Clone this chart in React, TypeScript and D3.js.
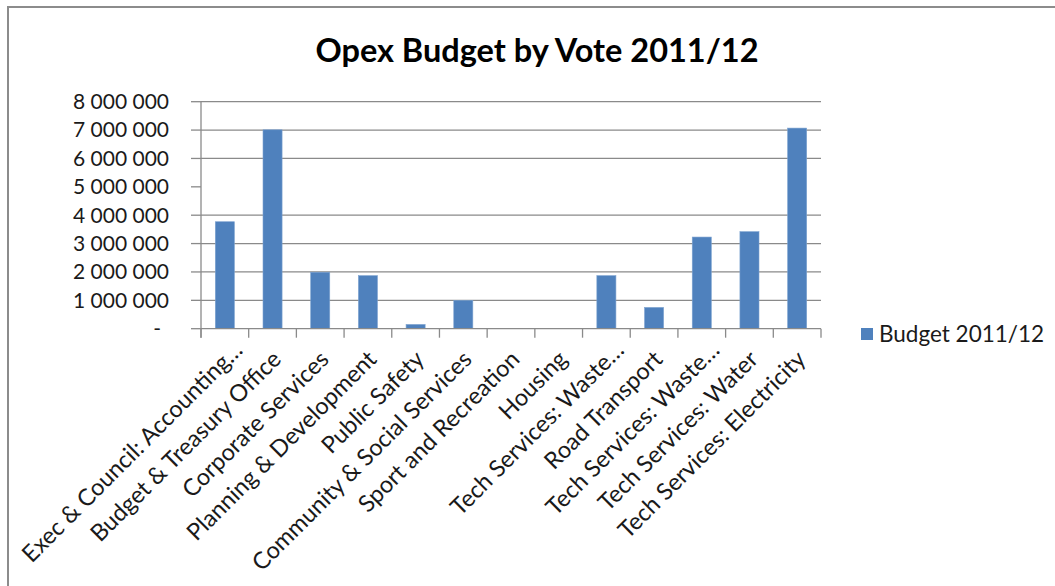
import React from "react";
import * as d3 from "d3";

const categories = [
  "Exec & Council: Accounting…",
  "Budget & Treasury Office",
  "Corporate Services",
  "Planning & Development",
  "Public Safety",
  "Community & Social Services",
  "Sport and Recreation",
  "Housing",
  "Tech Services: Waste…",
  "Road Transport",
  "Tech Services: Waste…",
  "Tech Services: Water",
  "Tech Services: Electricity",
];
const values = [3770000, 7010000, 1990000, 1870000, 150000, 1000000, 0, 0, 1870000, 750000, 3230000, 3420000, 7070000];
const yTicks = [0, 1000000, 2000000, 3000000, 4000000, 5000000, 6000000, 7000000, 8000000];
const gridTicks = [1000000, 2000000, 3000000, 4000000, 6000000, 7000000, 8000000];
const seriesName = "Budget 2011/12";
const title = "Opex Budget by Vote 2011/12";

const W = 1055;
const H = 586;
const left = 201;
const right = 821;
const top = 101.7;
const bottom = 328.7;
const FONT = "Lato, 'Open Sans', sans-serif";
const BLUE = "#4F81BD";
const GRID = "#8a8a8a";

const locale = d3.formatLocale({ decimal: ".", thousands: " ", grouping: [3], currency: ["", ""] });
const fmt = locale.format(",");

export default function App() {
  const x = d3.scaleBand<number>().domain(d3.range(categories.length)).range([left, right]).paddingInner(0).paddingOuter(0);
  const y = d3.scaleLinear().domain([0, 8000000]).range([bottom, top]);
  const bw = x.bandwidth() / 2.5;

  return (
    <svg width={W} height={H} style={{ position: "absolute", left: 0, top: 0, background: "#fff" }}>
      <rect x={8} y={7} width={W + 20} height={H + 20} fill="#fff" stroke="#8c8c8c" strokeWidth={2} />
      <text x={537} y={62} textAnchor="middle" fontFamily={FONT} fontWeight="bold" fontSize={32.5} fill="#000">
        {title}
      </text>
      {gridTicks.map((t) => (
        <line key={"g" + t} x1={left} x2={right} y1={y(t)} y2={y(t)} stroke={GRID} strokeWidth={1.3} />
      ))}
      {yTicks.map((t) => (
        <line key={"yt" + t} x1={left - 10} x2={left} y1={y(t)} y2={y(t)} stroke={GRID} strokeWidth={1.3} />
      ))}
      {yTicks.map((t) => (
        <text key={"yl" + t} x={t === 0 ? 161 : 169} y={y(t)} dy="0.35em" textAnchor="end" fontFamily={FONT} fontSize={21} fill="#1a1a1a">
          {t === 0 ? "-" : fmt(t)}
        </text>
      ))}
      {values.map((v, i) => (
        <rect
          key={"b" + i}
          x={(x(i) as number) + (x.bandwidth() - bw) / 2}
          y={y(v)}
          width={bw}
          height={bottom - y(v)}
          fill={BLUE}
          stroke="#7da2d0"
          strokeWidth={0.6}
        />
      ))}
      <line x1={left} x2={right} y1={bottom} y2={bottom} stroke={GRID} strokeWidth={1.3} />
      <line x1={left} x2={left} y1={top} y2={bottom + 9} stroke={GRID} strokeWidth={1.3} />
      {d3.range(categories.length + 1).map((i) => {
        const xx = i < categories.length ? (x(i) as number) : right;
        return <line key={"xt" + i} x1={xx} x2={xx} y1={bottom} y2={bottom + 9} stroke={GRID} strokeWidth={1.3} />;
      })}
      {categories.map((c, i) => {
        const cx = (x(i) as number) + x.bandwidth() / 2 + 10;
        const cy = bottom + 32;
        const extra = c.endsWith("…") ? 13 : 0;
        return (
          <text key={"xl" + i} x={cx} y={cy} dx={extra} textAnchor="end" transform={`rotate(-45 ${cx} ${cy})`} fontFamily={FONT} fontSize={23.5} fill="#1a1a1a">
            {c}
          </text>
        );
      })}
      <rect x={861} y={328} width={12} height={12} fill={BLUE} />
      <text x={879} y={334} dy="0.35em" fontFamily={FONT} fontSize={22.5} fill="#1a1a1a">
        {seriesName}
      </text>
    </svg>
  );
}
